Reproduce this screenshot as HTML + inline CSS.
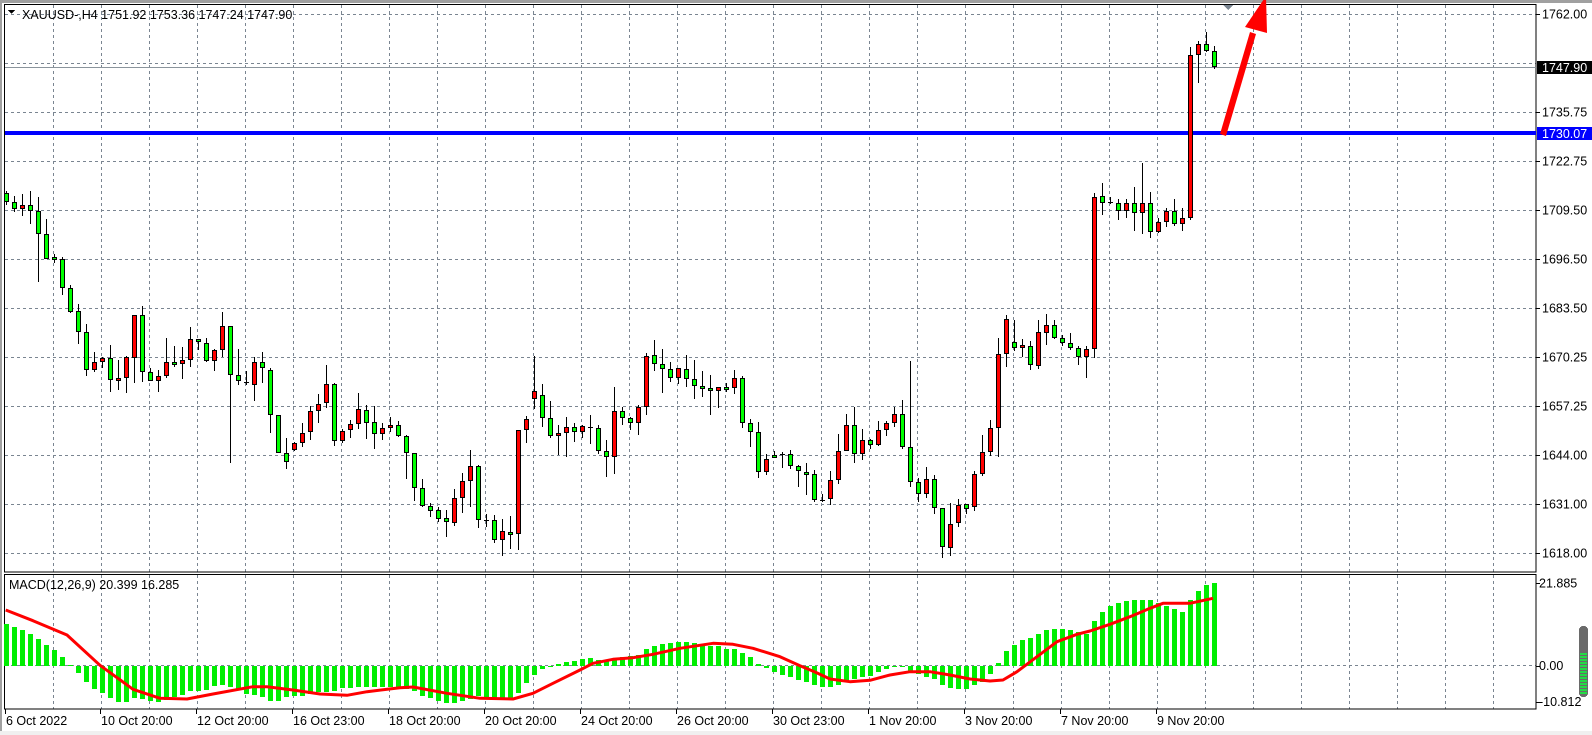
<!DOCTYPE html>
<html><head><meta charset="utf-8">
<style>
html,body{margin:0;padding:0;background:#fff;}
svg{display:block;font-family:"Liberation Sans",sans-serif;}
</style></head>
<body>
<svg id="s" width="1592" height="735" viewBox="0 0 1592 735" xmlns="http://www.w3.org/2000/svg" shape-rendering="crispEdges">
<rect x="0" y="0" width="1592" height="735" fill="#fff"/>
<rect x="0" y="0" width="1592" height="3" fill="#a0a0a0"/>
<rect x="0" y="0" width="2" height="735" fill="#a0a0a0"/>
<rect x="0" y="731" width="1592" height="4" fill="#f0f0f0"/>
<g id="grid"></g>
<g id="candles"></g>
<g id="macd"></g>
<g id="labels" font-size="12.5" fill="#000"></g>
</svg>
<script>
(function(){
var NS="http://www.w3.org/2000/svg";
function el(p,t,a,txt){var e=document.createElementNS(NS,t);for(var k in a)e.setAttribute(k,a[k]);if(txt!==undefined)e.textContent=txt;document.getElementById(p).appendChild(e);return e;}
var GC="#7a8591";
// vertical grid
for(var k=0;k<=30;k++){var x=53+48*k+0.5;
 el("grid","line",{x1:x,y1:5,x2:x,y2:572,stroke:GC,"stroke-dasharray":"3,3"});
 el("grid","line",{x1:x,y1:575,x2:x,y2:709,stroke:GC,"stroke-dasharray":"3,3"});}
// horizontal grid main
for(var k=0;k<=11;k++){var y=Math.round(14.3+49*k)+0.5;
 el("grid","line",{x1:5,y1:y,x2:1536,y2:y,stroke:GC,"stroke-dasharray":"3,3"});}
el("grid","line",{x1:5,y1:665.5,x2:1536,y2:665.5,stroke:GC,"stroke-dasharray":"3,3"});
// panel borders
el("grid","rect",{x:4.5,y:4.5,width:1531.5,height:567.5,fill:"none",stroke:"#000"});
el("grid","rect",{x:4.5,y:574.5,width:1531.5,height:134.5,fill:"none",stroke:"#000"});
// current price line
el("grid","line",{x1:5,y1:67.5,x2:1536,y2:67.5,stroke:"#8a949c"});
// blue line
el("grid","rect",{x:5,y:131,width:1531,height:4,fill:"#0000ff"});

// candles
function add(arr,y0,start){for(var j=0;j<arr.length;j++){var c=arr[j];var i=start+j;var cx=6+8*i;
 var wt=y0+c[0]/3,bt=y0+c[1]/3,bb=y0+c[2]/3,wb=y0+c[3]/3;
 el("candles","rect",{x:cx,y:Math.round(wt),width:1,height:Math.max(1,Math.round(wb)-Math.round(wt)),fill:"#000"});
 if(c[4]=="d"){el("candles","rect",{x:cx-2,y:Math.round(bt),width:5,height:1,fill:"#000"});continue;}
 var t=Math.round(bt),b=Math.round(bb);if(b-t<3)b=t+3;
 el("candles","rect",{x:cx-2,y:t,width:5,height:b-t,fill:"#000"});
 el("candles","rect",{x:cx-1,y:t+1,width:3,height:b-t-2,fill:c[4]=="r"?"#ff0000":"#00ff00"});}}
var g="g",r="r",d="d";
add([[33,40,67,75,g],[48,67,88,97,g],[42,76,88,107,r],[33,76,94,131,g],[51,94,163,305,g],[118,163,236,236,g],[221,230,236,248,g],[230,236,325,344,g],[316,325,395,400,g],[373,394,457,491,g],[432,457,571,587,g],[516,547,571,575,r],[530,535,547,565,r],[494,535,601,635,g],[540,595,601,629,r],[528,532,595,638,r],[406,406,535,610,r],[378,406,577,607,g],[565,577,604,604,g],[571,589,604,635,r],[474,547,589,595,r],[498,547,553,562,g],[501,541,553,597,r],[441,478,541,562,r],[476,478,487,510,g],[474,490,544,547,g],[508,511,544,573,r],[396,438,511,530,r],[438,438,586,848,g],[507,586,604,616,g],[572,607,610,616,d],[532,547,616,662,r],[516,547,565,608,g],[565,571,706,758,g],[706,706,820,820,g],[773,820,847,866,g],[787,790,811,814,r]],180,0);
add([[249,280,310,322,r],[198,213,277,301,r],[162,192,214,248,r],[75,132,190,203,r],[128,132,304,317,g],[268,274,304,310,r],[240,253,271,293,r],[159,208,253,268,r],[196,211,250,298,g],[198,247,283,328,g],[250,265,283,301,r],[231,256,265,276,r],[243,256,289,292,g],[286,289,340,418,g],[340,340,445,484,g],[418,445,499,502,g],[490,499,514,532,g],[502,511,538,545,g],[511,535,547,592,g],[448,475,550,559,r],[400,424,475,520,r],[330,379,424,502,r],[376,379,541,565,g],[523,540,540,560,d],[526,541,601,610,g],[538,574,601,649,r],[529,577,583,626,g],[271,271,583,629,r],[229,238,271,310,r],[48,154,178,208,r],[132,166,235,260,g],[184,235,289,295,g],[256,280,289,344,r],[232,262,280,350,r],[250,262,277,307,g],[255,259,277,295,r],[226,260,260,313,d]],340,37);
add([[315,325,394,403,g],[361,394,412,472,g],[202,274,412,463,r],[262,274,295,316,g],[292,295,310,330,g],[256,262,310,346,r],[100,109,262,284,r],[61,106,133,154,g],[88,133,148,220,g],[127,148,175,187,g],[145,145,175,193,r],[106,148,178,202,g],[121,178,199,238,g],[154,199,208,230,g],[166,205,214,286,g],[202,202,214,265,r],[189,202,208,217,g],[151,175,205,223,r],[169,175,310,325,g],[298,310,337,382,g],[307,337,457,475,g],[403,418,457,466,r],[394,406,415,415,g],[397,403,403,445,d],[391,403,439,448,g],[436,439,454,502,g],[430,457,466,526,g],[451,463,541,547,g],[523,540,540,547,d],[454,481,538,556,r],[343,394,481,493,r],[283,316,394,394,r],[262,316,403,430,g],[328,361,403,421,r],[358,361,376,388,g],[304,331,376,379,r],[304,310,331,349,r]],320,74);
add([[771,793,820,830,r],[750,793,892,898,g],[633,892,997,1012,g],[985,997,1033,1055,g],[951,988,1033,1045,r],[976,988,1075,1093,g],[1075,1075,1192,1225,g],[1060,1123,1195,1219,r],[1048,1066,1120,1132,r],[1063,1063,1078,1093,g],[964,973,1072,1084,r],[856,907,973,979,r],[811,835,907,919,r],[565,613,835,922,r],[496,508,613,652,r],[511,577,595,604,g],[568,586,595,622,r],[574,589,646,661,g],[511,547,649,658,r],[493,526,550,586,r],[511,526,565,568,g],[556,565,580,589,g],[550,580,595,601,g],[589,595,622,646,g],[589,598,622,685,r],[130,142,598,625,r],[100,139,160,196,g],[142,157,157,163,d],[148,160,184,211,g],[148,160,184,205,r],[112,160,190,244,g],[40,160,190,253,r],[127,160,247,265,g],[205,217,247,250,r],[175,184,217,232,r],[148,184,223,229,g],[175,205,223,244,r]],150,111);
add([[142,166,655,661,r],[124,133,166,250,r],[97,133,154,157,g],[139,154,202,208,g]],0,148);

// MACD histogram
var Z=665.5;
function hist(arr,zero,start){for(var j=0;j<arr.length;j++){var i=start+j;var cx=6+8*i;var h=(arr[j]-zero)/3;
 var y1=Math.round(h>=0?Z:Z+h),y2=Math.round(h>=0?Z+h:Z);if(y2-y1<1)y2=y1+1;
 el("macd","rect",{x:cx-2,y:y1,width:5,height:y2-y1,fill:"#00ee00"});}}
hist([220,231,240,252,267,285,300,321,345,368,395,416,428,443,455,455,443,445,452,455,448,440,433,423,423,418,408,405,410,420,432,433,440,452,452,441,437,438,432,424,425,422,413,412,410,411,410],346,0);
hist([335,333,333,340,347,360,368,377,383,383,375,370,362,365,370,370,370,352,323,297,281,272,265,258,255,249,246,252,257,249,243,242,237,219,210,204,201,198,198,201,212,212,212,219,219,231,243,264,278,290,297,303,312,318],270,47);
hist([327,335,335,327,318,311,303,300,290,280,275,273,285,296,303,311,329,338,339,339,329,320,296,262,225,207,192,186,174,162,159,159,162,168,175,135,108,90,81,75,72,72,72,81,90,99,108,72,45,27,21],270,101);
var sig=[[5.7,610],[33,620.7],[67,635],[100,665.3],[133,689.3],[160,698.3],[187,699],[213,694],[253,686.7],[267,686.7],[293,690],[320,694],[347,695.3],[367,691.7],[400,687.7],[413,687],[447,693.3],[480,698.3],[513,699],[533,693.3],[553,683.3],[580,670],[593,663.3],[613,659.3],[633,657.7],[653,654.3],[680,648.3],[713,643.3],[733,644.3],[753,648.3],[780,656.7],[800,665.7],[815,672],[830,679],[850,681.7],[870,680.3],[890,675],[910,671.7],[930,671.7],[950,675],[970,679],[990,681],[1003,680],[1017,671.7],[1037,656.7],[1057,641.7],[1077,634.3],[1090,631],[1110,624.3],[1130,616.7],[1150,608.3],[1163,603.3],[1190,603.3],[1213,598.3]];
el("macd","polyline",{points:sig.map(function(p){return p.join(",")}).join(" "),fill:"none",stroke:"#ff0000","stroke-width":3,"shape-rendering":"auto","stroke-linejoin":"round"});

// right axis labels
var pl=[["1762.00",0],["1735.75",2],["1722.75",3],["1709.50",4],["1696.50",5],["1683.50",6],["1670.25",7],["1657.25",8],["1644.00",9],["1631.00",10],["1618.00",11]];
pl.forEach(function(p){var y=Math.round(14.3+49*p[1]);
 el("labels","rect",{x:1536,y:y,width:4,height:1,fill:"#000"});
 el("labels","text",{x:1542,y:y+4.5},p[0]);});
el("labels","rect",{x:1537,y:61,width:55,height:13,fill:"#000"});
el("labels","text",{x:1542,y:72,fill:"#fff"},"1747.90");
el("labels","rect",{x:1537,y:127,width:55,height:13,fill:"#0000ff"});
el("labels","text",{x:1542,y:138,fill:"#fff"},"1730.07");
[["21.885",583],["0.00",665.7],["-10.812",701.7]].forEach(function(p){
 el("labels","rect",{x:1536,y:Math.round(p[1]),width:4,height:1,fill:"#000"});
 el("labels","text",{x:1539,y:p[1]+4.5},p[0]);});
// time labels
var tl=["6 Oct 2022","10 Oct 20:00","12 Oct 20:00","16 Oct 23:00","18 Oct 20:00","20 Oct 20:00","24 Oct 20:00","26 Oct 20:00","30 Oct 23:00","1 Nov 20:00","3 Nov 20:00","7 Nov 20:00","9 Nov 20:00"];
tl.forEach(function(t,k){var x=(k==0?5:4+96*k);
 el("labels","rect",{x:x,y:709,width:1,height:5,fill:"#000"});
 el("labels","text",{x:x+1,y:725},t);});
// titles
el("labels","path",{d:"M8 10 L15 10 L11.5 14 Z",fill:"#000"});
el("labels","text",{x:22,y:19},"XAUUSD-,H4  1751.92 1753.36 1747.24 1747.90");
el("labels","text",{x:9,y:589},"MACD(12,26,9) 20.399 16.285");
// small top triangle
el("labels","path",{d:"M1223 5 L1233 5 L1228 10 Z",fill:"#7a8591"});
// red arrow
el("labels","path",{d:"M1220 134 L1226 136 L1256 34 L1250 32 Z",fill:"#ff0000","shape-rendering":"auto"});
el("labels","path",{d:"M1245 27 L1267 33 L1266 -4 Z",fill:"#ff0000","shape-rendering":"auto"});
// scroll widget
el("labels","rect",{x:1579,y:626,width:9,height:71,rx:4,fill:"#6a6a6a"});
for(var y=653;y<693;y+=3)el("labels","rect",{x:1580,y:y,width:7,height:2,fill:"#22dd44"});
})();
</script>
</body></html>
